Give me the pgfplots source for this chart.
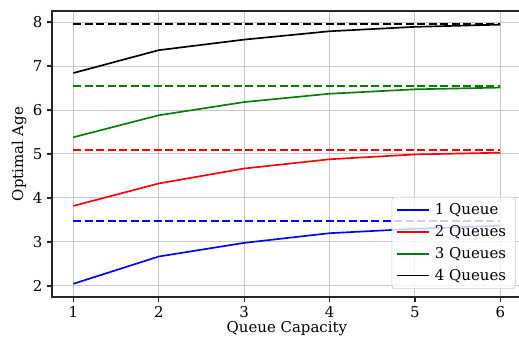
\documentclass[border=0pt]{standalone}
\usepackage{fontspec}
\setmainfont{DejaVu Serif}
\usepackage{pgfplots}
\pgfplotsset{compat=1.18}
\begin{document}
\begin{tikzpicture}
\useasboundingbox (-39pt,-33.75pt) rectangle (350.25pt,222.75pt);
\begin{axis}[
  scale only axis,
  width=352.3pt, height=214.5pt,
  xmin=0.75, xmax=6.25, ymin=1.75, ymax=8.25,
  xtick={1,2,3,4,5,6}, ytick={2,3,4,5,6,7,8},
  grid=major,
  major grid style={draw=black!22, line width=0.75pt},
  axis line style={draw=black!85, line width=0.8pt},
  tick align=outside, tick pos=left,
  major tick length=3.7pt,
  tick style={draw=black!85, line width=0.8pt},
  /pgf/number format/assume math mode=true,
  ticklabel style={font=\fontsize{11.2}{13}\selectfont},
  label style={font=\fontsize{11.2}{13}\selectfont},
  xlabel={Queue Capacity}, ylabel={Optimal Age},
  xlabel style={yshift=4pt},
  ylabel style={yshift=-2pt},
  legend style={at={(0.987,0.028)}, anchor=south east,
    font=\fontsize{11.2}{13}\selectfont,
    draw=black!20, fill=white, fill opacity=0.8, draw opacity=1, text opacity=1,
    rounded corners=2pt, row sep=2.5pt, inner xsep=3pt, inner ysep=3pt,
    nodes={inner xsep=4pt}},
  legend cell align=left,
  legend image code/.code={\draw[#1, line width=1.3pt, solid] (0pt,0pt) -- (24pt,0pt);},
  every axis plot/.append style={line width=1.25pt},
]
\addplot[blue] coordinates {(1,2.05) (2,2.67) (3,2.98) (4,3.20) (5,3.30) (6,3.37)};
\addlegendentry{1 Queue}
\addplot[red] coordinates {(1,3.82) (2,4.33) (3,4.67) (4,4.88) (5,4.99) (6,5.03)};
\addlegendentry{2 Queues}
\addplot[green!50!black] coordinates {(1,5.38) (2,5.88) (3,6.18) (4,6.37) (5,6.47) (6,6.51)};
\addlegendentry{3 Queues}
\addplot[black] coordinates {(1,6.84) (2,7.36) (3,7.60) (4,7.79) (5,7.89) (6,7.94)};
\addlegendentry{4 Queues}
\addplot[blue, dash pattern=on 6pt off 2.6pt, forget plot] coordinates {(1,3.48) (6,3.48)};
\addplot[red, dash pattern=on 6pt off 2.6pt, forget plot] coordinates {(1,5.09) (6,5.09)};
\addplot[green!50!black, dash pattern=on 6pt off 2.6pt, forget plot] coordinates {(1,6.55) (6,6.55)};
\addplot[black, dash pattern=on 6pt off 2.6pt, forget plot] coordinates {(1,7.95) (6,7.95)};
\end{axis}
\end{tikzpicture}
\end{document}
